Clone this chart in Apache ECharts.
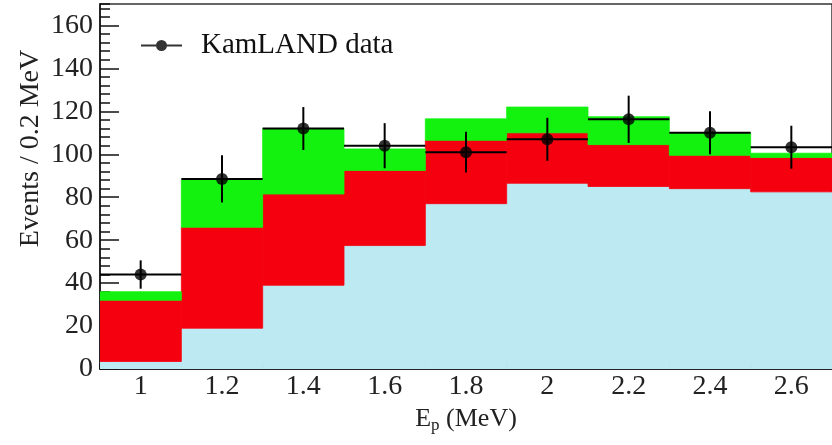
<!DOCTYPE html>
<html>
<head>
<meta charset="utf-8" />
<title>KamLAND prompt energy</title>
<script src="https://cdn.jsdelivr.net/npm/echarts@6/dist/echarts.min.js"></script>
<style>
  html, body { margin: 0; padding: 0; background: #fff; }
  #main { width: 832px; height: 445px; }
</style>
</head>
<body>
<div id="main"></div>
<script type="text/javascript">
// bins of 0.2 MeV
var binLow    = [0.9, 1.1, 1.3, 1.5, 1.7, 1.9, 2.1, 2.3, 2.5];
var binHigh   = [1.1, 1.3, 1.5, 1.7, 1.9, 2.1, 2.3, 2.5, 2.7];
var binCenter = [1.0, 1.2, 1.4, 1.6, 1.8, 2.0, 2.2, 2.4, 2.6];

// stacked histogram parts, bottom to top (events / 0.2 MeV)
var bluePart  = [3.5, 19, 39, 57.5, 77, 86.5, 85, 84, 82.5];
var redPart   = [28.5, 47, 42.5, 35, 29.5, 23.5, 19.5, 15.5, 16];
var greenPart = [4, 22, 30.5, 10, 10, 12, 13, 10.5, 2];

// KamLAND data points with errors
var dataY   = [44, 88.5, 112, 104, 101, 107, 116.3, 110, 103.3];
var dataErr = [6.6, 11, 10, 10.5, 9.5, 10, 11, 10, 10];

// tick labels
var xTicks = [1, 1.2, 1.4, 1.6, 1.8, 2, 2.2, 2.4, 2.6];
var yTicks = [0, 20, 40, 60, 80, 100, 120, 140, 160];

var FONT = 'Liberation Serif';

// rectangles [lo, hi, bottom, top] for one layer on top of base
function layer(part, base) {
  var out = [];
  for (var i = 0; i < part.length; i++) {
    out.push([binLow[i], binHigh[i], base[i], base[i] + part[i]]);
  }
  return out;
}
function addArr(a, b) {
  return a.map(function (v, i) { return v + b[i]; });
}

var zero = bluePart.map(function () { return 0; });
var blueRects  = layer(bluePart, zero);
var redRects   = layer(redPart, bluePart);
var greenRects = layer(greenPart, addArr(bluePart, redPart));

function renderBin(params, api) {
  var p0 = api.coord([api.value(0), api.value(3)]);
  var p1 = api.coord([api.value(1), api.value(2)]);
  var c = api.visual('color');
  return {
    type: 'rect',
    shape: { x: p0[0], y: p0[1], width: p1[0] - p0[0], height: p1[1] - p0[1] },
    style: { fill: c, stroke: c, lineWidth: 0.8 }
  };
}

var errData = [];
for (var i = 0; i < dataY.length; i++) {
  errData.push([binCenter[i], dataY[i], dataErr[i], binLow[i], binHigh[i]]);
}
function renderErr(params, api) {
  var x = api.value(0), y = api.value(1), e = api.value(2);
  var a = api.coord([api.value(3), y]), b = api.coord([api.value(4), y]);
  var c = api.coord([x, y - e]), d = api.coord([x, y + e]);
  return {
    type: 'group',
    children: [
      { type: 'line', shape: { x1: a[0], y1: a[1], x2: b[0], y2: b[1] }, style: { stroke: '#000', lineWidth: 2 } },
      { type: 'line', shape: { x1: c[0], y1: c[1], x2: d[0], y2: d[1] }, style: { stroke: '#000', lineWidth: 2 } }
    ]
  };
}

var pts = binCenter.map(function (x, i) { return [x, dataY[i]]; });

var chart = echarts.init(document.getElementById('main'));
var axisLine = { lineStyle: { color: '#111', width: 1.5 } };

chart.setOption({
  animation: false,
  grid: { left: 100, right: -6, top: 4, bottom: 76, show: true, borderColor: '#333', borderWidth: 1.5 },
  legend: {
    left: 141, top: 31, padding: 0,
    itemWidth: 41, itemHeight: 12,
    textStyle: { fontFamily: FONT, fontSize: 29, color: '#111', padding: [0, 0, 0, 14] },
    data: [{ name: 'KamLAND data', icon: 'path://M0,5 L41,5 L41,7 L0,7 Z M26,6 A5.5,5.5 0 1 1 15,6 A5.5,5.5 0 1 1 26,6 Z' }]
  },
  xAxis: [{
    type: 'value', min: 0.9, max: 2.7, interval: 0.05,
    axisLine: axisLine,
    axisTick: { inside: true, length: 12, lineStyle: { color: '#111', width: 1.5 }, customValues: xTicks },
    axisLabel: { customValues: xTicks, fontFamily: FONT, fontSize: 28, color: '#222', margin: 4 },
    splitLine: { show: false },
    name: '{a|E}{b|p}{a| (MeV)}',
    nameLocation: 'middle', nameGap: 34,
    nameTextStyle: {
      rich: {
        a: { fontFamily: FONT, fontSize: 26, color: '#222' },
        b: { fontFamily: FONT, fontSize: 17, color: '#222', padding: [14, 0, 0, 0] }
      }
    }
  }, {
    type: 'value', min: 0.9, max: 2.7, interval: 0.05, position: 'bottom',
    axisLine: { show: false },
    axisTick: { inside: true, length: 6, lineStyle: { color: '#111', width: 1.5 } },
    axisLabel: { show: false },
    splitLine: { show: false }
  }],
  yAxis: [{
    type: 'value', min: 0, max: 170, interval: 20,
    axisLine: axisLine,
    axisTick: { inside: true, length: 19, lineStyle: { color: '#111', width: 1.5 }, customValues: yTicks },
    axisLabel: { customValues: yTicks, fontFamily: FONT, fontSize: 28, color: '#222', margin: 7 },
    splitLine: { show: false },
    name: 'Events / 0.2 MeV',
    nameLocation: 'middle', nameRotate: 90, nameGap: 55, nameMoveOverlap: false,
    nameTextStyle: { fontFamily: FONT, fontSize: 28, color: '#222', padding: [0, 0, 0, 76] }
  }, {
    type: 'value', min: 0, max: 170, interval: 4, position: 'left',
    axisLine: { show: false },
    axisTick: { inside: true, length: 10, lineStyle: { color: '#111', width: 1.5 } },
    axisLabel: { show: false },
    splitLine: { show: false }
  }],
  series: [
    { type: 'custom', name: 'blue', renderItem: renderBin, data: blueRects, itemStyle: { color: '#bce9f2' }, z: 1, clip: true },
    { type: 'custom', name: 'red', renderItem: renderBin, data: redRects, itemStyle: { color: '#f5000f' }, z: 1, clip: true },
    { type: 'custom', name: 'green', renderItem: renderBin, data: greenRects, itemStyle: { color: '#12f20e' }, z: 1, clip: true },
    { type: 'custom', name: 'err', renderItem: renderErr, data: errData, z: 3 },
    { type: 'scatter', name: 'KamLAND data', data: pts, symbol: 'circle', symbolSize: 12, itemStyle: { color: '#000' }, z: 4 }
  ]
});
</script>
</body>
</html>
